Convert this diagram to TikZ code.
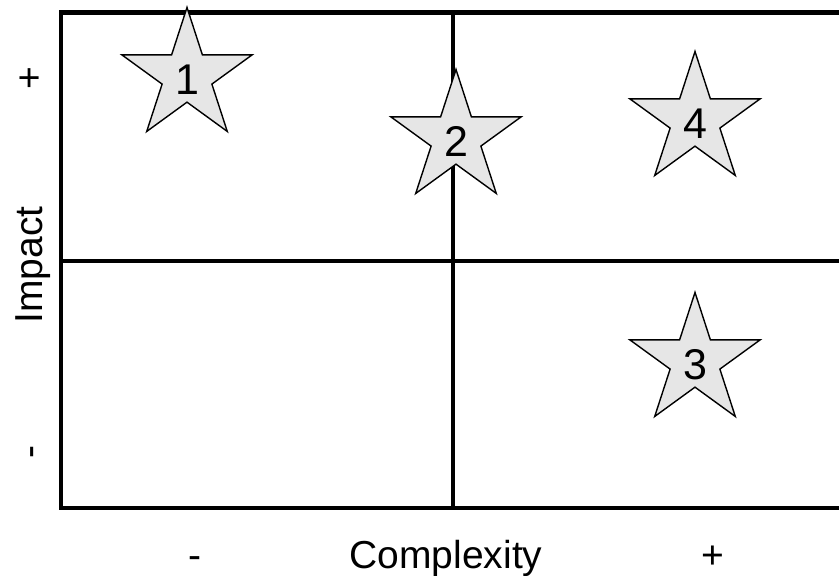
\documentclass[tikz,border=0pt]{standalone}
\usepackage{fontspec}
\setmainfont{Liberation Sans}
\usepackage{tikz}
\usetikzlibrary{shapes.geometric}
\definecolor{starfill}{HTML}{E6E6E6}
\definecolor{inkblack}{HTML}{000000}

\begin{document}
\begin{tikzpicture}[x=1pt, y=-1pt,
  grid/.style={draw=inkblack, line width=4.8pt},
  idea/.style={star, star points=5, star point ratio=2.62, draw=inkblack, fill=starfill,
               line width=1.4pt, minimum size=134pt, inner sep=0pt,
               text height=37pt, text depth=0pt,
               font=\fontsize{43}{50}\selectfont, text=inkblack},
  axislbl/.style={font=\fontsize{39}{46}\selectfont, anchor=base, inner sep=0pt, text=inkblack},
  yaxislbl/.style={axislbl, rotate=90}
]
  \useasboundingbox (0,0) rectangle (839,576);
  \clip (0,0) rectangle (839,576);

  % quadrant frame
  \coordinate (tl) at (61,12.5);
  \coordinate (br) at (850,508);
  \coordinate (mt) at (453,12.5);
  \coordinate (mb) at (453,508);
  \coordinate (ml) at (61,261);
  \coordinate (mr) at (850,261);
  \draw[grid] (tl) rectangle (br);
  \draw[grid] (mt) -- (mb);
  \draw[grid] (ml) -- (mr);

  % ideas
  \node[idea] (s1) at (187,76)  {1};
  \node[idea] (s2) at (456,138) {2};
  \node[idea] (s4) at (695,120) {4};
  \node[idea] (s3) at (695,361) {3};

  % axis labels
  \node[axislbl] (xlo)  at (195,568) {-};
  \node[axislbl] (xlbl) at (446,568) {Complexity};
  \node[axislbl] (xhi)  at (713,568) {+};
  \node[yaxislbl] (yhi)  at (42,78)  {+};
  \node[yaxislbl] (ylbl) at (42,265) {Impact};
  \node[yaxislbl] (ylo)  at (42,452) {-};
\end{tikzpicture}
\end{document}
